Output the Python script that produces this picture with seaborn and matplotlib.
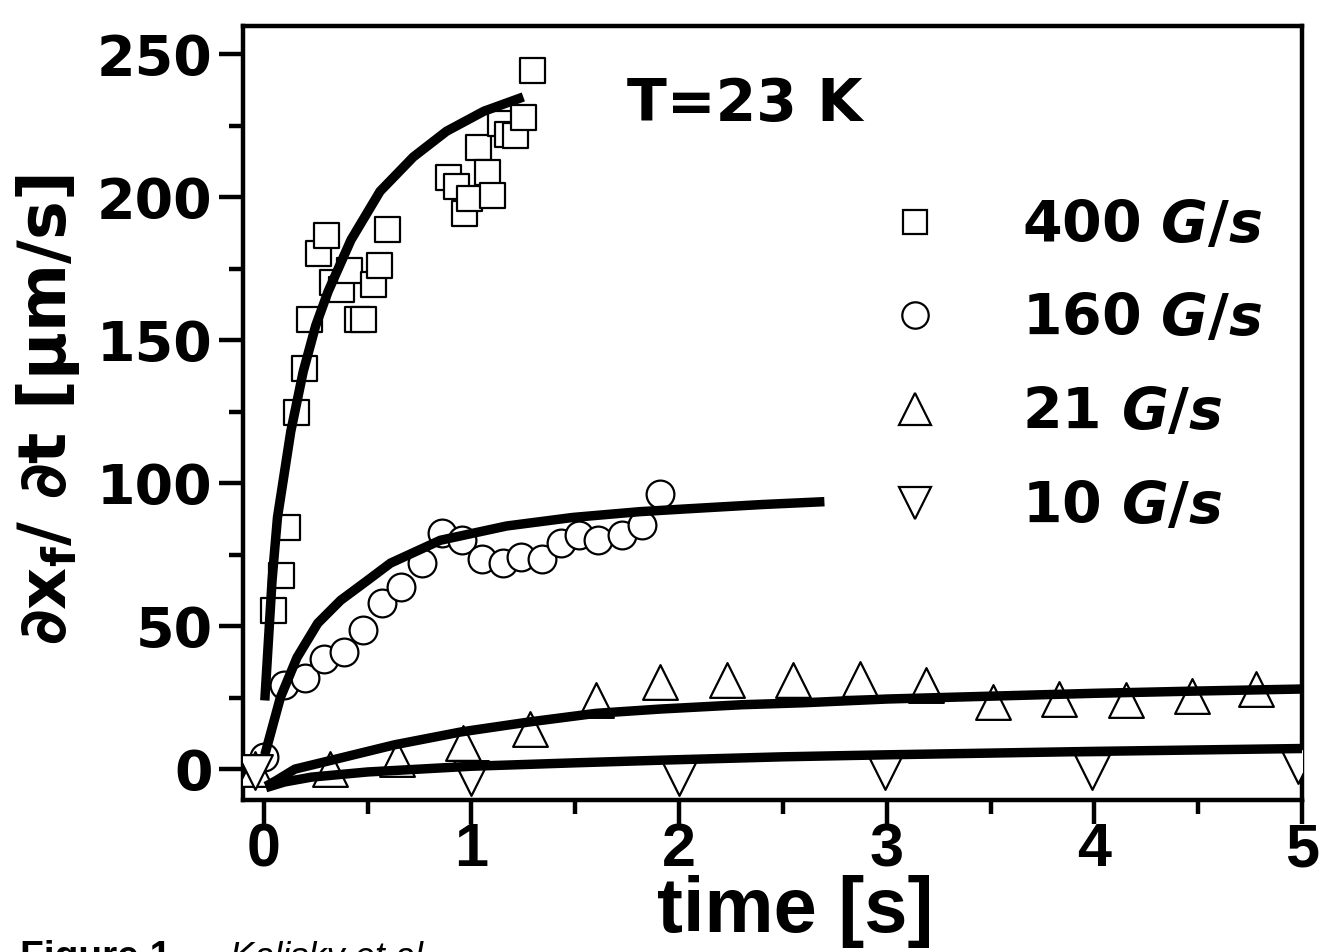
import numpy as np
import pandas as pd
import matplotlib
matplotlib.use("Agg")
import matplotlib.pyplot as plt
import seaborn as sns
from matplotlib.lines import Line2D
from matplotlib.ticker import MultipleLocator

# ---------------- data ----------------
t400 = [0.045, 0.082, 0.114, 0.154, 0.194, 0.22, 0.26, 0.30, 0.33, 0.37, 0.41, 0.45,
        0.48, 0.525, 0.554, 0.595, 0.886, 0.928, 0.966, 0.99, 1.03, 1.075, 1.10,
        1.14, 1.17, 1.21, 1.25, 1.29]
v400 = [55.6, 67.8, 84.5, 124.9, 140.1, 157.2, 180.6, 186.7, 170.3, 168.0, 174.5, 157.2,
        157.3, 169.5, 176.4, 188.7, 207.0, 203.8, 194.5, 199.5, 217.6, 208.8, 200.7,
        225.8, 222.0, 221.7, 228.0, 244.4]

t160 = [0.0, 0.098, 0.2, 0.29, 0.386, 0.48, 0.57, 0.66, 0.763, 0.86, 0.955, 1.05, 1.15,
        1.24, 1.34, 1.43, 1.52, 1.61, 1.725, 1.82, 1.91]
v160 = [4.2, 29.4, 31.7, 38.6, 41.0, 48.6, 57.9, 63.7, 71.9, 82.4, 80.1, 73.3, 71.9,
        74.2, 73.6, 78.9, 81.8, 80.1, 81.8, 85.3, 96.3]

t21 = [-0.04, 0.32, 0.64, 0.96, 1.28, 1.60, 1.91, 2.23, 2.55, 2.87, 3.19, 3.51, 3.83,
       4.15, 4.47, 4.78]
v21 = [0.0, 0.0, 3.5, 9.0, 14.0, 24.0, 30.5, 31.0, 31.0, 31.5, 29.5, 23.5, 24.5, 24.0,
       25.5, 28.0]

t10 = [-0.04, 1.0, 2.0, 2.99, 3.99, 4.98]
v10 = [-1.0, -3.0, -3.0, -1.0, -1.0, 1.0]

# fitted curves (read as points along the drawn curves)
fit400_t = [0.005, 0.04, 0.066, 0.13, 0.19, 0.25, 0.31, 0.42, 0.56, 0.72, 0.88, 1.06, 1.25]
fit400_v = [24, 66, 88, 118, 139, 155, 167, 185, 202, 214, 223, 230, 235]

fit160_t = [0.005, 0.08, 0.16, 0.26, 0.37, 0.5, 0.61, 0.85, 1.17, 1.49, 1.81, 2.04, 2.4, 2.7]
fit160_v = [5, 25, 39, 51, 59, 66, 72, 80, 85, 88, 90, 91, 92.5, 93.5]

fit21_t = [0.01, 0.06, 0.15, 0.32, 0.63, 0.95, 1.28, 1.6, 1.91, 2.3, 2.6, 3.0, 3.5, 4.0, 4.5, 5.0]
fit21_v = [-6, -4, 0, 3, 8.5, 13, 16.5, 19.5, 21, 22.5, 23.2, 24.5, 25.5, 26.5, 27.3, 28]

fit10_t = [0.01, 0.1, 0.23, 0.5, 1.0, 1.5, 1.95, 2.5, 3.0, 3.5, 4.0, 4.5, 5.0]
fit10_v = [-6.5, -4.5, -2.8, -1, 1, 2.2, 3.2, 4.3, 5, 5.6, 6.2, 6.7, 7.2]

series_labels = ["400", "160", "21", "10"]
unit_label = "G/s"
xticks = [0, 1, 2, 3, 4, 5]
yticks = [0, 50, 100, 150, 200, 250]

# ---------------- style ----------------
sns.set_theme(style="white")
plt.rcParams["font.family"] = ["DejaVu Sans"]
for k in ["text.color", "axes.labelcolor", "xtick.color", "ytick.color", "axes.edgecolor"]:
    plt.rcParams[k] = "black"
plt.rcParams["mathtext.fontset"] = "custom"
plt.rcParams["mathtext.rm"] = "DejaVu Sans:bold"
plt.rcParams["mathtext.it"] = "DejaVu Sans:italic:bold"
plt.rcParams["mathtext.bf"] = "DejaVu Sans:bold"

W, H = 1322, 952
fig = plt.figure(figsize=(W / 100, H / 100), dpi=100)
fig.patch.set_facecolor("white")
ax = fig.add_axes([243 / W, 1 - 800 / H, (1302 - 243) / W, (800 - 26) / H])
ax.set_facecolor("white")

mk = dict(facecolor="white", edgecolor="black", linewidth=1.6, zorder=3, legend=False)
sets = [
    (t400, v400, "s", 18),
    (t160, v160, "o", 20),
    (t21, v21, "^", 25),
    (t10, v10, "v", 25),
]
for tt, vv, m, ms in sets:
    df = pd.DataFrame({"t": tt, "v": vv})
    sns.scatterplot(data=df, x="t", y="v", marker=m, s=ms ** 2, ax=ax, **mk)

fits = [(fit400_t, fit400_v), (fit160_t, fit160_v), (fit21_t, fit21_v), (fit10_t, fit10_v)]
for ft, fv in fits:
    df = pd.DataFrame({"t": ft, "v": fv})
    sns.lineplot(data=df, x="t", y="v", color="black", lw=6.8, sort=False,
                 ax=ax, zorder=4, solid_capstyle="butt")

ax.set_xlim(-0.1, 5.0)
ax.set_ylim(-10.8, 259.8)
ax.set_xticks(xticks)
ax.set_yticks(yticks)
ax.xaxis.set_minor_locator(MultipleLocator(0.5))
ax.yaxis.set_minor_locator(MultipleLocator(25))
ax.tick_params(which="major", direction="out", length=17, width=3.2, color="black",
               bottom=True, left=True, top=False, right=False)
ax.tick_params(axis="x", which="major", pad=-1)
ax.tick_params(axis="y", which="major", pad=5)
ax.tick_params(which="minor", direction="out", length=10, width=3.2, color="black",
               bottom=True, left=True, top=False, right=False)
for sp in ax.spines.values():
    sp.set_visible(True)
    sp.set_color("black")
    sp.set_linewidth(3.2)

ax.set_xticklabels([str(x) for x in xticks], family=["Liberation Sans", "DejaVu Sans"],
                   fontsize=44, fontweight="bold")
ax.set_yticklabels([str(y) for y in yticks], fontsize=40, fontweight="bold")

ax.set_xlabel("time [s]", fontsize=56, fontweight="bold",
              family=["Liberation Sans Narrow", "Liberation Sans", "DejaVu Sans"])
ax.xaxis.set_label_coords((795 - 243) / 1059, (800 - 875) / 774)
ax.set_ylabel("∂x$_\\mathrm{f}$/ ∂t [µm/s]", fontsize=47, fontweight="bold")
ax.yaxis.set_label_coords((82 - 243) / 1059, (800 - 410) / 774)

ax.text((745 - 243) / 1059, (800 - 105) / 774, "T=23 K", transform=ax.transAxes,
        ha="center", va="center", fontsize=42, fontweight="bold")

handles = [Line2D([], [], ls="none", marker=m, ms=ms * 0.95, mfc="white", mec="black", mew=1.6)
           for _, _, m, ms in sets]
labels = [f"{s} $\\mathit{{{unit_label}}}$" for s in series_labels]
ax.legend(handles, labels, loc="upper left", bbox_to_anchor=(0.608, 0.777),
          frameon=False, handlelength=1.0, handletextpad=1.38, labelspacing=0.68,
          borderpad=0, borderaxespad=0, prop=dict(size=41, weight="bold"))

# caption, cropped at the bottom edge
fig.text(20 / W, -0.0168, "Figure 1.", family=["Liberation Sans", "DejaVu Sans"],
         fontsize=28, fontweight="bold", ha="left", va="baseline")
fig.text(230 / W, -0.0168, "Kalisky et al.", family=["Liberation Sans", "DejaVu Sans"],
         fontsize=26, style="italic", ha="left", va="baseline")

fig.savefig("out.png", dpi=100, facecolor="white")
